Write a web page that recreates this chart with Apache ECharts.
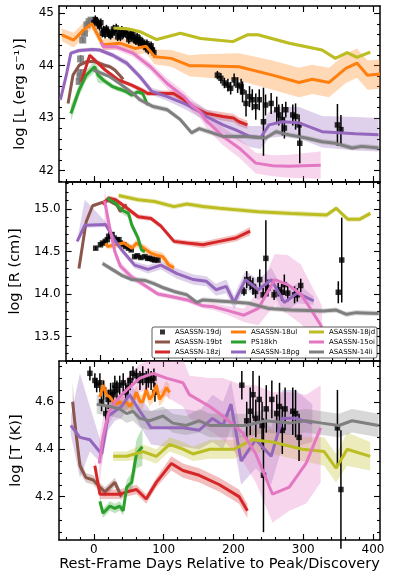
<!DOCTYPE html>
<html>
<head>
<meta charset="utf-8">
<script src="https://cdn.jsdelivr.net/npm/echarts@6/dist/echarts.min.js"></script>
<style>
html, body { margin: 0; padding: 0; background: #fff; }
#chart { width: 398px; height: 582px; }
</style>
</head>
<body>
<div id="chart"></div>
<script>
// axis ranges and ticks
const X_MIN = -50, X_MAX = 410;
const xMajor = [0, 100, 200, 300, 400];
const xMinor = [-40, -20, 0, 20, 40, 60, 80, 100, 120, 140, 160, 180, 200, 220, 240, 260, 280, 300, 320, 340, 360, 380, 400];
const yMajorL = [42, 43, 44, 45];
const yMinorL = [41.8, 42.2, 42.4, 42.6, 42.8, 43.2, 43.4, 43.6, 43.8, 44.2, 44.4, 44.6, 44.8];
const yMajorR = [13.5, 14.0, 14.5, 15.0];
const yMinorR = [13.3, 13.4, 13.6, 13.7, 13.8, 13.9, 14.1, 14.2, 14.3, 14.4, 14.6, 14.7, 14.8, 14.9, 15.1, 15.2, 15.3];
const yMajorT = [4.2, 4.4, 4.6];
const yMinorT = [4.05, 4.1, 4.15, 4.25, 4.3, 4.35, 4.45, 4.5, 4.55, 4.65, 4.7, 4.75];

// [day, value, err] or [day, value, errDown, errUp]
const L_19bt = [[-37,43.28,0.05],[-30,43.82,0.05],[-21,44.01,0.04],[-10,44.08,0.04],[1,44.08,0.04],[15,44.01,0.04],[23,43.98,0.04],[30,43.92,0.04],[42,43.74,0.04]];
const L_18zj = [[-18,43.69,0.04],[-12,43.95,0.04],[-6,44.2,0.04],[1,44.11,0.04],[8,44.02,0.04],[16,43.92,0.04],[35,43.73,0.04],[54,43.63,0.04],[68,43.54,0.05],[77,43.47,0.05],[90,43.47,0.05],[114,43.47,0.06],[129,43.35,0.06],[140,43.22,0.06],[161,43.09,0.07],[185,43.03,0.08],[200,43.0,0.08],[208,42.93,0.08],[220,42.87,0.08]];
const L_18ul = [[-46,44.59,0.12],[-29,44.49,0.14],[-15,44.68,0.14],[-3,44.8,0.1],[13,44.4,0.1],[37,44.43,0.12],[59,44.33,0.12],[75,44.37,0.13],[87,44.17,0.14],[111,44.14,0.16],[137,44.0,0.2],[153,44.0,0.22],[208,43.98,0.26],[256,43.82,0.28],[294,43.68,0.28],[313,43.74,0.28],[337,43.68,0.28],[361,43.95,0.28],[377,44.05,0.28],[392,43.82,0.28],[410,43.84,0.28]];
const L_PS18kh = [[-33,43.09,0.15],[-21,43.54,0.12],[-11,43.82,0.1],[1,43.98,0.1],[6,43.82,0.15],[14,43.72,0.06],[27,43.6,0.05],[35,43.56,0.05],[40,43.54,0.05],[47,43.5,0.05],[54,43.44,0.05],[63,43.5,0.05],[70,43.47,0.05],[77,43.25,0.05]];
const L_18pg = [[-48,43.35,0.05],[-40,43.79,0.05],[-33,44.24,0.04],[-21,44.29,0.04],[-2,44.31,0.04],[8,44.3,0.04],[27,44.2,0.05],[47,44.05,0.06],[66,43.79,0.06],[83,43.51,0.07],[105,43.41,0.08],[129,43.28,0.1],[153,43.12,0.12],[161,43.03,0.14],[185,42.87,0.16],[204,42.77,0.18],[223,42.65,0.2],[239,42.63,0.22],[251,42.87,0.25],[270,42.93,0.28],[294,42.91,0.3],[327,42.74,0.3],[375,42.7,0.32],[408,42.68,0.32]];
const L_18jd = [[28,44.72,0.03],[50,44.7,0.03],[66,44.65,0.03],[90,44.5,0.03],[124,44.62,0.03],[153,44.52,0.03],[199,44.46,0.03],[220,44.59,0.03],[235,44.59,0.03],[280,44.43,0.03],[327,44.3,0.03],[346,44.14,0.03],[363,44.25,0.03],[377,44.16,0.03],[396,44.26,0.03]];
const L_15oi = [[10,44.45,0.08],[14,44.36,0.06],[32,44.36,0.06],[56,44.24,0.07],[81,43.98,0.08],[105,43.66,0.1],[129,43.41,0.1],[140,43.25,0.12],[152,43.12,0.12],[161,42.95,0.14],[185,42.65,0.17],[208,42.43,0.18],[232,42.14,0.2],[256,42.09,0.2],[280,42.08,0.22],[300,42.09,0.24],[325,42.1,0.26]];
const L_14li = [[-1,43.92,0.04],[23,43.79,0.04],[37,43.66,0.04],[56,43.47,0.05],[66,43.35,0.05],[85,43.22,0.05],[105,43.16,0.05],[124,42.97,0.05],[140,42.72,0.05],[151,42.8,0.05],[185,42.65,0.05],[218,42.65,0.05],[246,42.62,0.05],[261,42.74,0.05],[280,42.68,0.05],[304,42.62,0.05],[327,42.55,0.05],[346,42.52,0.05],[370,42.43,0.05],[384,42.46,0.05],[408,42.43,0.05]];

const R_19bt = [[-30.5,14.3,0.02],[-20,14.85,0.02],[-10.5,15.04,0.02],[4,15.08,0.02],[13,15.1,0.02],[25,15.05,0.02],[30,14.97,0.02],[35,15.03,0.02],[39.5,15.05,0.02]];
const R_18zj = [[4,15.06,0.03],[13,15.13,0.03],[23,15.11,0.03],[37,15.03,0.03],[56,14.91,0.03],[75,14.89,0.03],[89.5,14.8,0.03],[108.6,14.62,0.03],[127.6,14.6,0.03],[151,14.58,0.04],[175,14.62,0.04],[199,14.66,0.04],[220,14.74,0.05]];
const R_18ul = [[9,14.6,0.03],[11,14.56,0.03],[23,14.58,0.04],[35,14.6,0.04],[47,14.54,0.04],[54,14.6,0.05],[61,14.56,0.04],[68,14.52,0.05],[75,14.48,0.04],[82,14.46,0.05],[92,14.44,0.05],[96,14.4,0.05],[101,14.34,0.05],[108.6,14.31,0.04]];
const R_PS18kh = [[11,15.13,0.03],[23,15.07,0.04],[32,14.99,0.04],[42,14.95,0.05],[47,14.81,0.04],[56,14.66,0.04],[61,14.52,0.03],[66,14.5,0.03]];
const R_18pg = [[-33,14.62,0.02],[-22,14.81,0.03,0.3],[8.6,14.82,0.03],[23,14.62,0.03],[32,14.52,0.03],[51,14.34,0.04],[70.5,14.29,0.05],[89.5,14.34,0.05],[113,14.24,0.06],[137,14.17,0.06],[156,14.15,0.06],[170,14.05,0.07],[185,14.09,0.08],[196.5,13.9,0.08],[213,14.17,0.1],[232,14.05,0.12],[251,14.17,0.14],[270,13.9,0.12],[289,14.01,0.12],[313,13.92,0.05]];
const R_18jd = [[27.6,15.16,0.03],[56,15.11,0.03],[80,15.09,0.03],[108.6,15.03,0.03],[127.6,15.06,0.03],[151,15.03,0.03],[175,15.01,0.03],[232,14.97,0.03],[280,14.95,0.03],[332,14.93,0.03],[346,15.01,0.03],[363,14.88,0.03],[380,14.88,0.03],[396,14.95,0.03]];
const R_15oi = [[7,15.1,0.3,0.15],[14,14.8,0.1],[22,14.5,0.06],[30,14.33,0.05],[46.7,14.2,0.04],[66,14.1,0.03],[85,14.0,0.03],[104,13.97,0.03],[128,13.93,0.03],[151,13.86,0.03],[166,13.85,0.04],[185,13.81,0.05],[211,13.75,0.08],[232,13.83,0.2],[256,14.17,0.3],[275,14.11,0.35],[294,14.0,0.35],[308,13.83,0.3],[325,13.61,0.25]];
const R_14li = [[4,14.36,0.03],[18,14.29,0.03],[32,14.22,0.03],[47,14.17,0.03],[66,14.16,0.03],[80,14.12,0.03],[94,14.07,0.03],[108.6,14.03,0.03],[127.6,13.99,0.03],[142,13.9,0.03],[151,13.93,0.03],[185,13.91,0.03],[218,13.89,0.03],[246.5,13.83,0.03],[280,13.81,0.03],[327,13.8,0.03],[346,13.81,0.03],[361,13.76,0.03],[375,13.78,0.03],[408,13.77,0.03]];

const T_19bt = [[-30.5,4.6,0.04,0.08],[-25.7,4.47,0.04],[-20,4.33,0.03],[-11.4,4.28,0.02],[-1,4.27,0.02],[8.6,4.24,0.02],[15.7,4.22,0.02],[23,4.24,0.02],[30,4.26,0.02],[39.5,4.2,0.02]];
const T_18zj = [[1.4,4.33,0.02],[8.6,4.21,0.02],[18,4.21,0.02],[37,4.21,0.02],[47,4.22,0.02],[61,4.23,0.02],[75,4.19,0.02],[89.5,4.26,0.02],[111,4.34,0.03],[127.6,4.31,0.03],[151,4.29,0.03],[180,4.25,0.03],[208,4.2,0.03],[220,4.14,0.03]];
const T_18ul = [[8.6,4.62,0.03],[13,4.67,0.03],[18,4.63,0.03],[23,4.62,0.03],[28,4.6,0.03],[32,4.59,0.03],[37,4.6,0.03],[42,4.59,0.03],[47,4.6,0.03],[51,4.58,0.03],[56,4.6,0.03],[61,4.64,0.03],[66,4.6,0.03],[70,4.6,0.03],[75,4.65,0.03],[80,4.61,0.03],[85,4.63,0.03],[89.5,4.67,0.03],[94,4.61,0.03],[99,4.63,0.03],[104,4.66,0.03],[108.6,4.64,0.03]];
const T_PS18kh = [[8.6,4.18,0.02],[13,4.13,0.02],[23,4.16,0.02],[30,4.15,0.02],[37,4.16,0.02],[42,4.14,0.02],[47,4.24,0.03],[54,4.26,0.04],[61,4.38,0.06],[69.5,4.41,0.08]];
const T_18pg = [[-33,4.5,0.04],[-20,4.45,0.17,0.27],[-5.7,4.44,0.05,0.14],[11,4.38,0.04],[20.5,4.54,0.06],[30,4.56,0.04],[39.5,4.58,0.05],[51,4.63,0.05],[66,4.56,0.06],[82,4.49,0.07],[104,4.49,0.08],[127.6,4.49,0.08],[151,4.48,0.08],[170,4.53,0.1],[185,4.5,0.1],[196.5,4.59,0.1],[211,4.35,0.1],[232,4.44,0.12],[254,4.37,0.12],[270,4.53,0.12],[289,4.53,0.12],[313,4.51,0.08]];
const T_18jd = [[27.6,4.37,0.02],[47,4.37,0.02],[70.5,4.39,0.03],[89.5,4.37,0.03],[108.6,4.42,0.03],[127.6,4.4,0.03],[142,4.38,0.03],[166,4.4,0.04],[201,4.4,0.04],[227,4.44,0.05],[256,4.43,0.05],[299,4.4,0.05],[330,4.39,0.06],[347,4.32,0.06],[363,4.4,0.07],[396,4.37,0.06]];
const T_15oi = [[7.6,4.34,0.1],[13,4.45,0.08],[20.5,4.55,0.05],[30,4.6,0.05],[47,4.65,0.05],[66,4.7,0.06],[85,4.72,0.06],[104,4.7,0.08],[127.6,4.68,0.1],[137,4.63,0.1,0.08],[166,4.58,0.1,0.12],[185,4.54,0.1,0.16],[213,4.47,0.12,0.2],[232,4.38,0.12,0.29],[256,4.21,0.12,0.43],[280,4.24,0.1,0.4],[304,4.34,0.17,0.29],[325,4.49,0.23,0.18]];
const T_14li = [[4,4.59,0.04],[23,4.58,0.04],[37,4.57,0.04],[47,4.55,0.04],[56,4.56,0.04],[66,4.53,0.04],[80,4.52,0.04],[99,4.54,0.04],[113,4.51,0.04],[132,4.5,0.04],[151,4.52,0.05],[166,4.5,0.05],[185,4.5,0.05],[218,4.5,0.05],[246,4.52,0.05],[280,4.51,0.05],[304,4.52,0.05],[327,4.51,0.05],[351,4.5,0.05],[370,4.52,0.05],[408,4.5,0.05]];

// ASASSN-19dj photometry-derived points [day, value, err]
const L_19dj_early = [[-21,43.7,0.05],[-20,43.8,0.05],[-19,43.87,0.05],[-19,44.13,0.07],[-16,44.49,0.05],[-13.5,44.62,0.05],[-10,44.78,0.04],[-7,44.84,0.04],[-4,44.87,0.04]];
const L_19dj = [[0,44.82,0.08],[2,44.88,0.08],[4,44.85,0.08],[6,44.8,0.08],[8,44.75,0.08],[10,44.82,0.08],[12,44.62,0.08],[14,44.68,0.08],[16,44.6,0.08],[18,44.7,0.08],[20,44.65,0.08],[22,44.6,0.08],[24,44.58,0.08],[26,44.62,0.08],[28,44.7,0.08],[30,44.66,0.08],[32,44.72,0.08],[34,44.55,0.08],[36,44.62,0.08],[38,44.55,0.08],[40,44.68,0.08],[42,44.6,0.08],[44,44.64,0.08],[46,44.65,0.08],[48,44.58,0.08],[50,44.5,0.08],[52,44.6,0.08],[54,44.55,0.08],[56,44.62,0.08],[58,44.5,0.08],[60,44.48,0.08],[62,44.55,0.08],[64,44.45,0.08],[66,44.5,0.08],[68,44.42,0.08],[70,44.45,0.08],[72,44.4,0.08],[74,44.35,0.08],[76,44.42,0.08],[78,44.3,0.08],[80,44.35,0.08],[82,44.38,0.08],[84,44.3,0.08],[86,44.25,0.1],
  [177,43.82,0.08],[182,43.76,0.1],[187,43.67,0.1],[192,43.63,0.12],[196,43.57,0.12],[201,43.73,0.12],[206,43.63,0.15],[211,43.6,0.15],[213,43.5,0.2],[218,43.28,0.25],[223,43.41,0.2],[227,43.35,0.2],[232,43.22,0.25],[237,43.35,0.2],[243,42.93,0.65],[246,43.25,0.2],[254,43.28,0.2],[262,43.16,0.25],[265,43.06,0.2],[270,42.97,0.3],[273,42.81,0.2],[275,43.16,0.15],[285,43.06,0.2],[289,43.03,0.25],[294,42.87,0.2],[295,42.52,0.38],[349,42.87,0.4],[354,42.78,0.28]];
const R_19dj = [[-6,14.54,0.02],[1,14.58,0.02],[4,14.6,0.02],[8,14.62,0.02],[11,14.64,0.02],[13,14.68,0.02],[16,14.7,0.02],[18,14.7,0.02],[21,14.66,0.02],[25,14.64,0.02],[28,14.64,0.02],[30,14.6,0.02],[35,14.58,0.02],[38,14.56,0.02],[42,14.54,0.02],[46,14.52,0.02],[51,14.44,0.02],[55,14.45,0.02],[60,14.43,0.02],[66,14.44,0.02],[70,14.42,0.02],[73,14.42,0.02],[77,14.41,0.02],[80,14.4,0.02],[85,14.4,0.02],
  [211,14.03,0.05],[215,14.17,0.1],[220,14.13,0.08],[224,14.09,0.1],[228,14.03,0.08],[234,14.17,0.12],[239,13.99,0.08],[243,14.42,0.45],[246,14.07,0.1],[255,13.99,0.06],[261,14.05,0.08],[266,14.02,0.1],[270,14.11,0.12],[275,14.01,0.1],[285,13.99,0.1],[289,13.99,0.08],[294,14.1,0.08],[349,14.02,0.13],[354,14.4,0.5]];
const T_19dj = [[-5.7,4.72,0.03],[1.4,4.69,0.03],[4,4.67,0.03],[8.6,4.68,0.04],[11,4.6,0.04],[14,4.65,0.04],[17,4.55,0.03],[20.5,4.61,0.04],[24,4.64,0.04],[27.6,4.63,0.04],[30,4.67,0.04],[33,4.65,0.04],[37,4.67,0.04],[42,4.68,0.04],[45.7,4.64,0.04],[49,4.66,0.04],[52,4.69,0.04],[56,4.72,0.03],[61,4.71,0.03],[66,4.69,0.04],[70,4.71,0.04],[75,4.69,0.04],[78,4.7,0.04],[82,4.69,0.04],[86,4.7,0.04],[87.5,4.64,0.04],
  [212,4.67,0.06],[219,4.52,0.08],[224,4.56,0.1],[228,4.63,0.1],[232,4.53,0.08],[237,4.61,0.1],[241,4.5,0.1],[243,4.29,0.24],[247,4.57,0.1],[255,4.61,0.08],[262,4.55,0.08],[266,4.58,0.1],[270,4.48,0.1],[274,4.57,0.09],[285,4.56,0.1],[289,4.55,0.1],[294,4.45,0.1],[349,4.49,0.16],[354,4.23,0.25]];

const FONT = 'DejaVu Sans';
const tdes = [
  ['ASASSN-19bt', '#8c564b', L_19bt, R_19bt, T_19bt],
  ['ASASSN-18zj', '#d62728', L_18zj, R_18zj, T_18zj],
  ['ASASSN-18ul', '#ff7f0e', L_18ul, R_18ul, T_18ul],
  ['PS18kh', '#2ca02c', L_PS18kh, R_PS18kh, T_PS18kh],
  ['ASASSN-18pg', '#9467bd', L_18pg, R_18pg, T_18pg],
  ['ASASSN-18jd', '#bcbd22', L_18jd, R_18jd, T_18jd],
  ['ASASSN-15oi', '#e377c2', L_15oi, R_15oi, T_15oi],
  ['ASASSN-14li', '#7f7f7f', L_14li, R_14li, T_14li]
];
const dj = [L_19dj, R_19dj, T_19dj];

const TICK = { color: '#000', width: 1.1 };
const LINE = { show: true, onZero: false, lineStyle: { color: '#000', width: 1.5 } };
const NOLINE = { show: false, onZero: false };

function xAxes(g, last) {
  const base = { gridIndex: g, type: 'value', min: X_MIN, max: X_MAX, splitLine: { show: false } };
  const label = {
    show: last, customValues: xMajor, color: '#000', fontSize: 12, fontFamily: FONT, margin: 4
  };
  return [
    Object.assign({}, base, {
      position: 'bottom', axisLine: LINE,
      axisTick: { inside: true, length: 6, customValues: xMajor, lineStyle: TICK },
      axisLabel: label,
      name: last ? 'Rest-Frame Days Relative to Peak/Discovery' : '',
      nameLocation: 'middle', nameGap: 15,
      nameTextStyle: { color: '#000', fontSize: 14.5, fontFamily: FONT, verticalAlign: 'top' }
    }),
    Object.assign({}, base, { position: 'bottom', axisLine: NOLINE,
      axisTick: { inside: true, length: 3, customValues: xMinor, lineStyle: TICK }, axisLabel: { show: false } }),
    Object.assign({}, base, { position: 'top', axisLine: LINE,
      axisTick: { inside: true, length: 6, customValues: xMajor, lineStyle: TICK }, axisLabel: { show: false } }),
    Object.assign({}, base, { position: 'top', axisLine: NOLINE,
      axisTick: { inside: true, length: 3, customValues: xMinor, lineStyle: TICK }, axisLabel: { show: false } })
  ];
}

function yAxes(g, min, max, major, minor, digits, title) {
  const base = { gridIndex: g, type: 'value', min: min, max: max, splitLine: { show: false } };
  return [
    Object.assign({}, base, {
      position: 'left', axisLine: LINE,
      axisTick: { inside: true, length: 6, customValues: major, lineStyle: TICK },
      axisLabel: { customValues: major, color: '#000', fontSize: 12, fontFamily: FONT, margin: 5,
        formatter: v => Number(v).toFixed(digits) },
      name: title, nameLocation: 'middle', nameRotate: 90, nameGap: 31,
      nameTextStyle: { color: '#000', fontSize: 14.5, fontFamily: FONT }
    }),
    Object.assign({}, base, { position: 'left', axisLine: NOLINE,
      axisTick: { inside: true, length: 3, customValues: minor, lineStyle: TICK }, axisLabel: { show: false } }),
    Object.assign({}, base, { position: 'right', axisLine: LINE,
      axisTick: { inside: true, length: 6, customValues: major, lineStyle: TICK }, axisLabel: { show: false } }),
    Object.assign({}, base, { position: 'right', axisLine: NOLINE,
      axisTick: { inside: true, length: 3, customValues: minor, lineStyle: TICK }, axisLabel: { show: false } })
  ];
}

function band(pts, color, g) {
  return {
    type: 'custom', name: 'band', xAxisIndex: g * 4, yAxisIndex: g * 4, silent: true, clip: true,
    data: pts.map(p => [p[0], p[1]]),
    renderItem: (params, api) => {
      if (params.dataIndex !== 0) return null;
      const up = pts.map(p => api.coord([p[0], p[1] + (p.length > 3 ? p[3] : p[2])]));
      const lo = pts.map(p => api.coord([p[0], p[1] - p[2]])).reverse();
      return { type: 'polygon', shape: { points: up.concat(lo) }, style: { fill: color, opacity: 0.3 } };
    }
  };
}

function line(name, pts, color, g) {
  return {
    type: 'line', name: name, xAxisIndex: g * 4, yAxisIndex: g * 4, silent: true, clip: true,
    data: pts.map(p => [p[0], p[1]]), symbol: 'none', showSymbol: false,
    color: color, lineStyle: { color: color, width: 3 }
  };
}

function errBars(pts, color, g, width) {
  return {
    type: 'custom', name: 'err', xAxisIndex: g * 4, yAxisIndex: g * 4, silent: true,
    data: pts, encode: { x: 0, y: 1 },
    renderItem: (params, api) => {
      const x = api.value(0), y = api.value(1), e = api.value(2);
      const a = api.coord([x, y - e]), b = api.coord([x, y + e]);
      return { type: 'line', shape: { x1: a[0], y1: a[1], x2: b[0], y2: b[1] },
        style: { stroke: color, lineWidth: width } };
    }
  };
}

const series = [];
for (let g = 0; g < 3; g++) {
  tdes.forEach(t => {
    const pts = t[2 + g];
    series.push(band(pts, t[1], g));
    series.push(line(t[0], pts, t[1], g));
  });
  if (g === 0) {
    series.push(errBars(L_19dj_early, '#555', g, 1.5));
    series.push({ type: 'scatter', name: 'early', xAxisIndex: 0, yAxisIndex: 0, silent: true,
      symbol: 'rect', symbolSize: 7, itemStyle: { color: '#777', opacity: 0.85 },
      data: L_19dj_early.map(p => [p[0], p[1]]) });
  }
  series.push(errBars(dj[g], '#000', g, 1.5));
  series.push({ type: 'scatter', name: 'ASASSN-19dj', xAxisIndex: g * 4, yAxisIndex: g * 4, silent: true,
    symbol: 'rect', symbolSize: 5.5, itemStyle: { color: '#000' },
    data: dj[g].map(p => [p[0], p[1]]) });
}

const LINE_ICON = 'path://M0,0h10v2h-10z';
function legendCol(left, names, icons) {
  return {
    left: left, top: 328, orient: 'vertical', padding: 0, itemWidth: 15, itemHeight: 5, itemGap: 2,
    symbolKeepAspect: true, selectedMode: false, z: 11,
    textStyle: { fontSize: 7, fontFamily: FONT, color: '#000', lineHeight: 8 },
    data: names.map((n, i) => ({ name: n, icon: icons[i] }))
  };
}

const chart = echarts.init(document.getElementById('chart'), null, { renderer: 'canvas' });
chart.setOption({
  animation: false,
  backgroundColor: '#fff',
  grid: [
    { left: 59, right: 18, top: 6, height: 176 },
    { left: 59, right: 18, top: 182, height: 179 },
    { left: 59, right: 18, top: 361, height: 179 }
  ],
  xAxis: [].concat(xAxes(0, false), xAxes(1, false), xAxes(2, true)),
  yAxis: [].concat(
    yAxes(0, 41.78, 45.14, yMajorL, yMinorL, 0, 'log [L (erg s\u207B\u00B9)]'),
    yAxes(1, 13.21, 15.32, yMajorR, yMinorR, 1, 'log [R (cm)]'),
    yAxes(2, 4.017, 4.772, yMajorT, yMinorT, 1, 'log [T (K)]')
  ),
  legend: [
    legendCol(155, ['ASASSN-19dj', 'ASASSN-19bt', 'ASASSN-18zj'], ['path://M0,0h5v5h-5z', LINE_ICON, LINE_ICON]),
    legendCol(231, ['ASASSN-18ul', 'PS18kh', 'ASASSN-18pg'], [LINE_ICON, LINE_ICON, LINE_ICON]),
    legendCol(309, ['ASASSN-18jd', 'ASASSN-15oi', 'ASASSN-14li'], [LINE_ICON, LINE_ICON, LINE_ICON])
  ],
  graphic: [{
    type: 'rect', z: 10, silent: true,
    shape: { x: 152, y: 327, width: 225, height: 31, r: 2 },
    style: { fill: 'rgba(255,255,255,0.9)', stroke: '#333', lineWidth: 0.8 }
  }],
  series: series
});
</script>
</body>
</html>
